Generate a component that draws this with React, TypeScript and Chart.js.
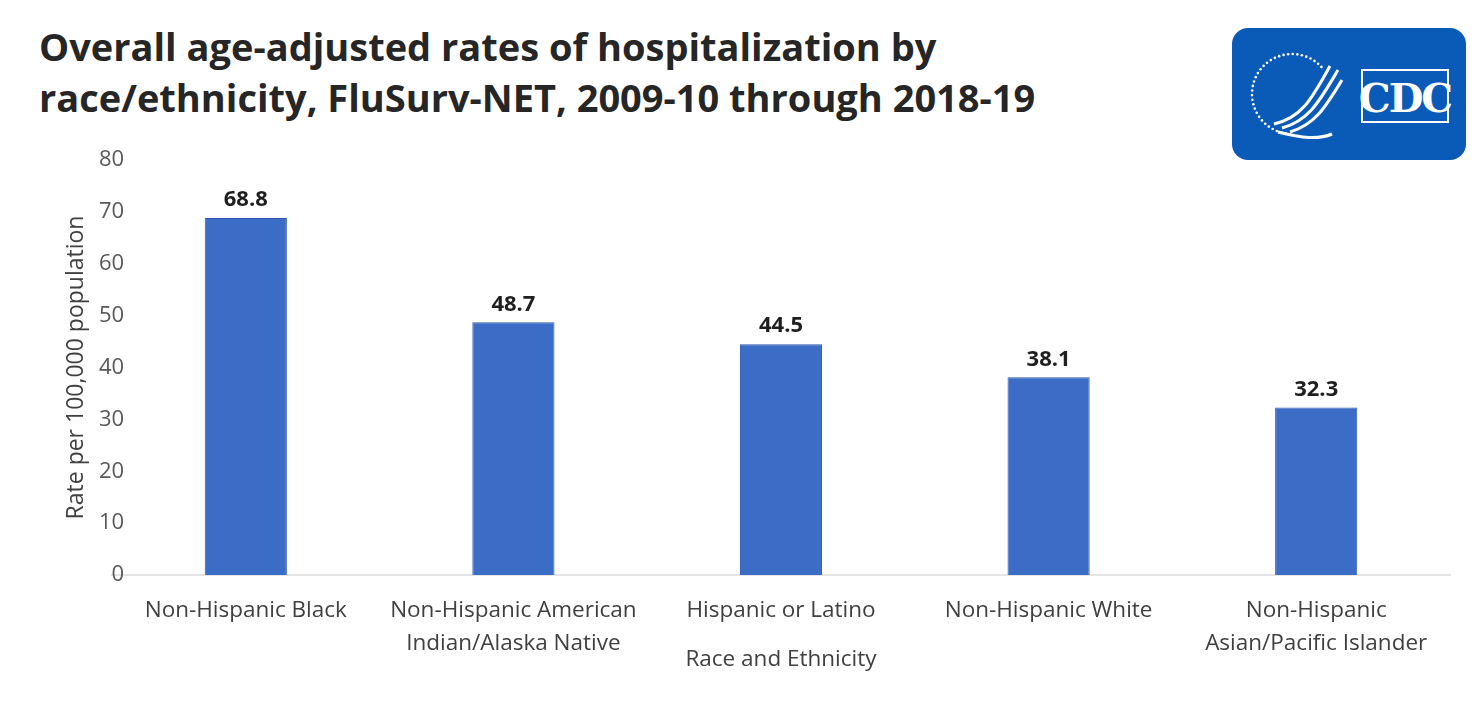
import React, { useEffect, useRef } from "react";
import { Chart, registerables } from "chart.js";

Chart.register(...registerables);

const categories: (string | string[])[] = [
  "Non-Hispanic Black",
  ["Non-Hispanic American", "Indian/Alaska Native"],
  "Hispanic or Latino",
  "Non-Hispanic White",
  ["Non-Hispanic", "Asian/Pacific Islander"],
];
const rates = [68.8, 48.7, 44.5, 38.1, 32.3];
const yTicks = [0, 10, 20, 30, 40, 50, 60, 70, 80];

const titleLines = [
  "Overall age-adjusted rates of hospitalization by",
  "race/ethnicity, FluSurv-NET, 2009-10 through 2018-19",
];
const yTitle = "Rate per 100,000 population";
const xTitle = "Race and Ethnicity";

const FONT = "'Open Sans', 'Noto Sans', sans-serif";

const valueLabels = {
  id: "valueLabels",
  afterDatasetsDraw(chart: any) {
    const ctx = chart.ctx;
    const meta = chart.getDatasetMeta(0);
    ctx.save();
    ctx.font = `bold 22px ${FONT}`;
    ctx.fillStyle = "#1f1f1f";
    ctx.textAlign = "center";
    ctx.textBaseline = "bottom";
    meta.data.forEach((bar: any, i: number) => {
      ctx.fillText(rates[i].toFixed(1), bar.x, bar.y - 7);
    });
    ctx.restore();
  },
};

function CdcLogo() {
  const dots = [];
  for (let i = 0; i < 34; i++) {
    const a = Math.PI * (0.55 + (i / 34) * 1.25);
    dots.push(<circle key={i} cx={60 + 40 * Math.cos(a)} cy={66 + 40 * Math.sin(a)} r={1.3} fill="white" />);
  }
  return (
    <div
      style={{
        position: "absolute",
        left: 1232,
        top: 28,
        width: 234,
        height: 132,
        borderRadius: 16,
        background: "#0a5bb8",
      }}
    >
      <svg width={234} height={132} style={{ position: "absolute", left: 0, top: 0 }}>
        {dots}
        <path d="M42 96 C70 90, 80 70, 98 38" stroke="white" strokeWidth={3} fill="none" />
        <path d="M50 100 C78 92, 88 72, 106 42" stroke="white" strokeWidth={3} fill="none" />
        <path d="M58 104 C84 96, 94 78, 110 52" stroke="white" strokeWidth={3} fill="none" />
        <path d="M46 104 C70 110, 86 112, 100 106" stroke="white" strokeWidth={3} fill="none" />
        <rect x={130} y={42} width={86} height={52} fill="none" stroke="white" strokeWidth={2} />
        <text
          x={173}
          y={84}
          textAnchor="middle"
          fill="white"
          fontFamily="'DejaVu Serif', serif"
          fontWeight="bold"
          fontSize={40}
          letterSpacing={-2}
        >
          CDC
        </text>
      </svg>
    </div>
  );
}

export default function App() {
  const canvasRef = useRef<HTMLCanvasElement | null>(null);

  useEffect(() => {
    document.body.style.margin = "0";
    const chart = new Chart(canvasRef.current as HTMLCanvasElement, {
      type: "bar",
      data: {
        labels: categories,
        datasets: [
          {
            data: rates,
            backgroundColor: "#3b6dc7",
            borderColor: "#2d58ad",
            borderWidth: 1,
            categoryPercentage: 1,
            barPercentage: 0.307,
          },
        ],
      },
      options: {
        animation: false,
        responsive: false,
        maintainAspectRatio: false,
        layout: { padding: { top: 160, right: 29, bottom: 0, left: 0 } },
        plugins: {
          legend: { display: false },
          tooltip: { enabled: false },
          title: { display: false },
        },
        scales: {
          x: {
            grid: { display: false, drawTicks: false },
            border: { display: true, color: "#e4e4e4", width: 2 },
            ticks: {
              color: "#404040",
              font: { family: FONT, size: 22.5, lineHeight: 1.47 },
              padding: 19,
              maxRotation: 0,
              autoSkip: false,
            },
            title: {
              display: true,
              text: xTitle,
              color: "#404040",
              font: { family: FONT, size: 22.5 },
              padding: { top: 0, bottom: 38 },
            },
            afterFit(scale: any) {
              scale.height = 136;
            },
          },
          y: {
            min: 0,
            max: 80,
            afterBuildTicks(scale: any) {
              scale.ticks = yTicks.map((v) => ({ value: v }));
            },
            grid: { display: false, drawTicks: false },
            border: { display: false },
            ticks: {
              color: "#595959",
              font: { family: FONT, size: 22 },
              mirror: true,
              crossAlign: "far",
              padding: -13,
            },
            title: {
              display: true,
              text: yTitle,
              color: "#404040",
              font: { family: FONT, size: 23 },
              padding: { top: 63, bottom: 0 },
            },
            afterFit(scale: any) {
              scale.width = 112;
            },
          },
        },
      },
      plugins: [valueLabels],
    });
    return () => chart.destroy();
  }, []);

  return (
    <div style={{ position: "relative", width: 1479, height: 711, background: "#ffffff", overflow: "hidden" }}>
      <div
        style={{
          position: "absolute",
          left: 39,
          top: 21,
          fontFamily: FONT,
          fontWeight: 700,
          fontSize: 38,
          lineHeight: "51px",
          color: "#262626",
          whiteSpace: "nowrap",
        }}
      >
        {titleLines.map((t, i) => (
          <div key={i}>{t}</div>
        ))}
      </div>
      <CdcLogo />
      <canvas ref={canvasRef} width={1479} height={711} style={{ position: "absolute", left: 0, top: 0 }} />
    </div>
  );
}
